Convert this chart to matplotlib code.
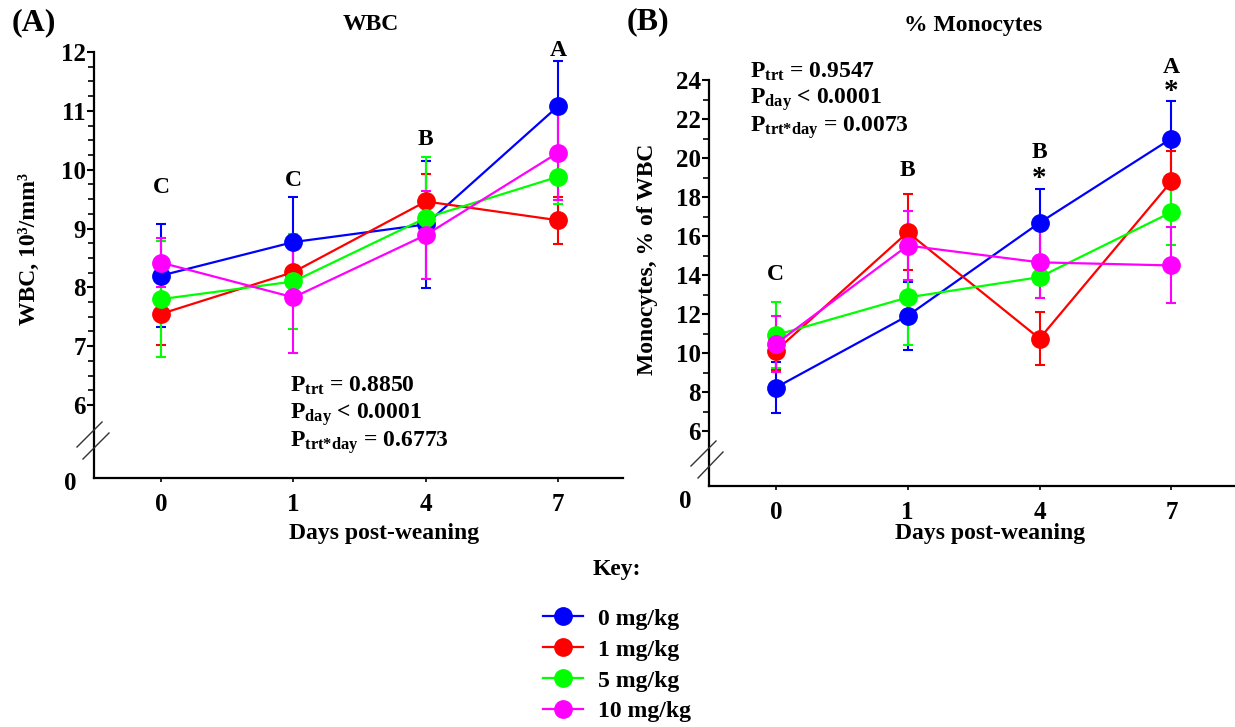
import matplotlib
matplotlib.use('Agg')
import matplotlib.pyplot as plt
from matplotlib.lines import Line2D
import numpy as np

# fonts: Times-like bold everywhere
plt.rcParams['font.family'] = ['Liberation Serif', 'DejaVu Serif']
plt.rcParams['font.weight'] = 'bold'
plt.rcParams['mathtext.fontset'] = 'custom'
plt.rcParams['mathtext.rm'] = 'Liberation Serif:bold'
plt.rcParams['mathtext.it'] = 'Liberation Serif:bold'
plt.rcParams['mathtext.bf'] = 'Liberation Serif:bold'

#%% data
days = ['0', '1', '4', '7']
doses = ['0 mg/kg', '1 mg/kg', '5 mg/kg', '10 mg/kg']
colors = ['#0000FF', '#FF0000', '#00FF00', '#FF00FF']

# (A) WBC, 10^3/mm^3
wbc_0 = [8.20, 8.77, 9.07, 11.08]
wbc_1 = [7.55, 8.26, 9.46, 9.14]
wbc_5 = [7.80, 8.10, 9.18, 9.88]
wbc_10 = [8.42, 7.83, 8.89, 10.29]
wbc_err_0 = [0.87, 0.76, 1.08, 0.76]
wbc_err_1 = [0.53, 0.42, 0.47, 0.40]
wbc_err_5 = [0.98, 0.80, 1.03, 0.47]
wbc_err_10 = [0.42, 0.95, 0.75, 0.80]
wbc_letters = ['C', 'C', 'B', 'A']
wbc_letter_y = [9.69, 9.81, 10.52, 12.03]

# (B) Monocytes, % of WBC
mono_0 = [8.23, 11.91, 16.68, 21.00]
mono_1 = [10.11, 16.19, 10.74, 18.80]
mono_5 = [10.92, 12.85, 13.89, 17.22]
mono_10 = [10.47, 15.51, 14.65, 14.49]
mono_err_0 = [1.33, 1.75, 1.71, 1.92]
mono_err_1 = [0.98, 1.94, 1.37, 1.57]
mono_err_5 = [1.68, 2.43, 1.08, 1.67]
mono_err_10 = [1.44, 1.76, 1.85, 1.95]
mono_letters = ['C', 'B', 'B', 'A']
mono_letter_y = [14.05, 19.38, 20.30, 24.65]
mono_star = ['', '', '*', '*']
mono_star_y = [0, 0, 18.95, 23.40]

#%% figure set up
W, H = 1235, 727
fig = plt.figure(figsize=(W / 100, H / 100), dpi=100)


def px(x, y):
    # pixel position (from top left) to figure fraction
    return x / W, 1 - y / H


def make_axes(left, top, right, bottom):
    return fig.add_axes([left / W, 1 - bottom / H, (right - left) / W, (bottom - top) / H])


axA = make_axes(94, 52, 623, 478)
axB = make_axes(709, 80, 1236, 486)

fs = 17
x = np.arange(len(days))


def draw_panel(ax, series, errors):
    handles = []
    for vals, errs, col, lab in zip(series, errors, colors, doses):
        c = ax.errorbar(x, vals, yerr=errs, color=col, ecolor=col, lw=1.6,
                        elinewidth=1.5, capsize=3.5, capthick=1.5,
                        marker='o', markersize=12.5, label=lab, clip_on=False)
        handles.append(c[0])
    ax.set_xlim(-0.507, 3.49)
    ax.set_xticks(x)
    ax.set_xticklabels(days)
    for s in ['top', 'right']:
        ax.spines[s].set_visible(False)
    for s in ['left', 'bottom']:
        ax.spines[s].set_linewidth(1.6)
    ax.tick_params(axis='y', which='major', length=5, width=1.5, pad=1, labelsize=fs + 1)
    ax.tick_params(axis='y', which='minor', length=4, width=1.2)
    ax.tick_params(axis='x', which='major', length=3, width=1.2, pad=8, labelsize=fs + 1)
    for lbl in ax.get_xticklabels() + ax.get_yticklabels():
        lbl.set_fontweight('bold')
    return handles


handles = draw_panel(axA, [wbc_0, wbc_1, wbc_5, wbc_10],
                     [wbc_err_0, wbc_err_1, wbc_err_5, wbc_err_10])
axA.set_ylim(4.76, 12)
axA.set_yticks(np.arange(6, 13, 1))
axA.set_yticks(np.arange(6, 12.01, 0.25), minor=True)

draw_panel(axB, [mono_0, mono_1, mono_5, mono_10],
           [mono_err_0, mono_err_1, mono_err_5, mono_err_10])
axB.set_ylim(3.18, 24)
axB.set_yticks(np.arange(6, 25, 2))
axB.set_yticks(np.arange(6, 24.01, 1), minor=True)

# significance letters
for i in range(len(days)):
    axA.text(x[i], wbc_letter_y[i], wbc_letters[i], ha='center', va='center',
             fontsize=fs, fontweight='bold', clip_on=False)
    axB.text(x[i], mono_letter_y[i], mono_letters[i], ha='center', va='center',
             fontsize=fs, fontweight='bold', clip_on=False)
    if mono_star[i]:
        axB.text(x[i], mono_star_y[i], mono_star[i], ha='center', va='center',
                 fontsize=fs + 4, fontweight='bold', clip_on=False)

# P values
pA = [r'P$_{\mathrm{trt}}$ = 0.8850', r'P$_{\mathrm{day}}$ < 0.0001',
      r'P$_{\mathrm{trt{*}day}}$ = 0.6773']
pB = [r'P$_{\mathrm{trt}}$ = 0.9547', r'P$_{\mathrm{day}}$ < 0.0001',
      r'P$_{\mathrm{trt{*}day}}$ = 0.0073']
for k in range(3):
    fig.text(*px(290, 386 + 28.5 * k), pA[k], fontsize=fs, fontweight='bold', va='center')
    fig.text(*px(750, 72 + 28 * k), pB[k], fontsize=fs, fontweight='bold', va='center')

# titles, panel letters, axis labels
fig.text(*px(371, 25), 'WBC', fontsize=fs, fontweight='bold', ha='center', va='center')
fig.text(*px(973, 26), '% Monocytes', fontsize=fs, fontweight='bold', ha='center', va='center')
fig.text(*px(34, 23), '(A)', fontsize=23, fontweight='bold', ha='center', va='center')
fig.text(*px(648, 22), '(B)', fontsize=23, fontweight='bold', ha='center', va='center')
fig.text(*px(384, 533), 'Days post-weaning', fontsize=fs, fontweight='bold', ha='center', va='center')
fig.text(*px(990, 533), 'Days post-weaning', fontsize=fs, fontweight='bold', ha='center', va='center')
fig.text(*px(29, 249), 'WBC, 10³/mm³', fontsize=fs, fontweight='bold', ha='center',
         va='center', rotation=90)
fig.text(*px(647, 259), 'Monocytes, % of WBC', fontsize=fs, fontweight='bold', ha='center',
         va='center', rotation=90)

# the "0" at the foot of each broken axis
fig.text(*px(70, 483), '0', fontsize=fs + 1, fontweight='bold', ha='center', va='center')
fig.text(*px(685, 502), '0', fontsize=fs + 1, fontweight='bold', ha='center', va='center')

# axis break marks
for (x0, y0, x1, y1) in [(77, 447, 102, 422), (83, 459, 109, 433),
                         (691, 466, 716, 441), (698, 478, 723, 452)]:
    a, b = px(x0, y0)
    c, d = px(x1, y1)
    fig.add_artist(Line2D([a, c], [b, d], color='#333333', lw=1.0))

# key
leg = fig.legend(handles=handles, labels=doses, loc='upper center',
                 bbox_to_anchor=px(617, 538), frameon=False, title='Key:',
                 prop={'size': fs, 'weight': 'bold'},
                 title_fontproperties={'size': fs, 'weight': 'bold'},
                 handlelength=1.7, handletextpad=0.6, labelspacing=0.4, numpoints=1)
leg._legend_box.sep = 20

fig.savefig('out.png', dpi=100)
